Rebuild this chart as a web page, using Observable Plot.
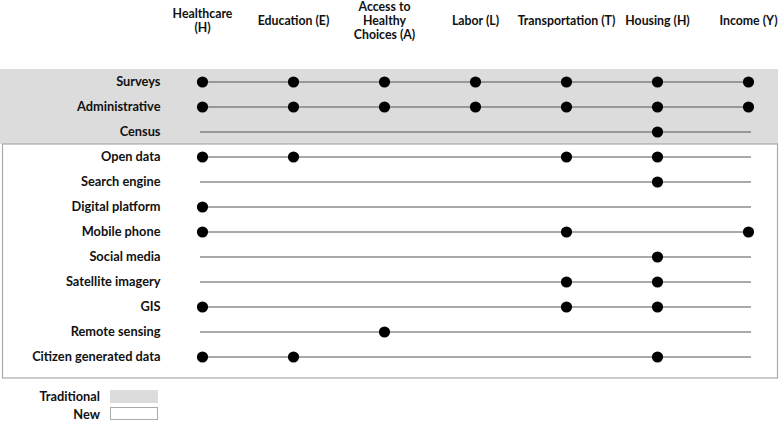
<!DOCTYPE html>
<html><head><meta charset="utf-8">
<script src="https://cdn.jsdelivr.net/npm/d3@7"></script>
<script src="https://cdn.jsdelivr.net/npm/@observablehq/plot@0.6"></script>
<style>
body{margin:0;background:#fff;font-family:Lato,sans-serif;}
#legend{position:relative;height:40px;width:780px;font:700 12.8px Lato,sans-serif;color:#111;}
#legend .lab{position:absolute;right:680px;line-height:14px;}
#legend .sw{position:absolute;left:110px;width:48px;height:13px;box-sizing:border-box;}
</style>
</head><body>
<div id="chart"></div>
<div id="legend">
  <div class="lab" style="top:5px">Traditional</div><div class="sw" style="top:6px;background:#dcdcdc"></div>
  <div class="lab" style="top:23px">New</div><div class="sw" style="top:23px;background:#fff;border:1px solid #aaa"></div>
</div>
<script>
const domains = ["Healthcare\n(H)", "Education (E)", "Access to\nHealthy\nChoices (A)", "Labor (L)", "Transportation (T)", "Housing (H)", "Income (Y)"];
const traditionalSources = ["Surveys", "Administrative", "Census"];
const newSources = ["Open data", "Search engine", "Digital platform", "Mobile phone", "Social media", "Satellite imagery", "GIS", "Remote sensing", "Citizen generated data"];
const legendLabels = ["Traditional", "New"];

const [H, E, A, L, T, HO, Y] = domains;
const surveys = [H, E, A, L, T, HO, Y];
const administrative = [H, E, A, L, T, HO, Y];
const census = [HO];
const openData = [H, E, T, HO];
const searchEngine = [HO];
const digitalPlatform = [H];
const mobilePhone = [H, T, Y];
const socialMedia = [HO];
const satelliteImagery = [T, HO];
const gis = [H, T, HO];
const remoteSensing = [A];
const citizenData = [H, E, HO];

const coverageLists = [surveys, administrative, census, openData, searchEngine, digitalPlatform, mobilePhone, socialMedia, satelliteImagery, gis, remoteSensing, citizenData];
const sources = [...traditionalSources, ...newSources];
const links = sources.flatMap((s, i) => coverageLists[i].map(d => ({source: s, domain: d})));

const rowFont = {fontFamily: "Lato, sans-serif", fontSize: 12.8, fontWeight: "bold", fill: "#111"};
const headFont = {fontFamily: "Lato, sans-serif", fontSize: 12.3, fontWeight: "bold", fill: "#111"};

const chart = Plot.plot({
  width: 780,
  height: 384,
  marginTop: 0, marginBottom: 0, marginLeft: 0, marginRight: 0,
  x: {type: "point", domain: domains, range: [200, 750], padding: 0, axis: null},
  y: {type: "band", domain: sources, range: [68, 370], padding: 0, axis: null},
  marks: [
    Plot.cell(traditionalSources, {y: d => d, fill: "#dcdcdc", insetRight: 2}),
    Plot.ruleY(sources, {y: d => d, x1: () => domains[0], x2: () => domains[6], stroke: "#555", strokeWidth: 1.2, insetLeft: -2, insetRight: -3}),
    Plot.dot(links, {x: "domain", y: "source", r: 5.6, fill: "#000", stroke: "none"}),
    Plot.text(sources, {y: d => d, text: d => d, frameAnchor: "left", dx: 160, textAnchor: "end", ...rowFont}),
    Plot.text(domains, {x: d => d, text: d => d, frameAnchor: "top", dy: 20, lineAnchor: "middle", lineHeight: 1.15, ...headFont})
  ]
});
document.getElementById("chart").append(chart);

// white frame around the "new" sources, positioned from Plot's y scale
const yScale = chart.scale("y");
const bw = yScale.bandwidth;
const boxTop = yScale.apply(newSources[0]);
const boxBottom = yScale.apply(newSources[newSources.length - 1]) + bw + 9;
d3.select(chart).append("rect")
  .attr("x", 2.5).attr("y", boxTop).attr("width", 775).attr("height", boxBottom - boxTop)
  .attr("fill", "none").attr("stroke", "#aaa").attr("stroke-width", 1.2);
</script>
</body></html>
